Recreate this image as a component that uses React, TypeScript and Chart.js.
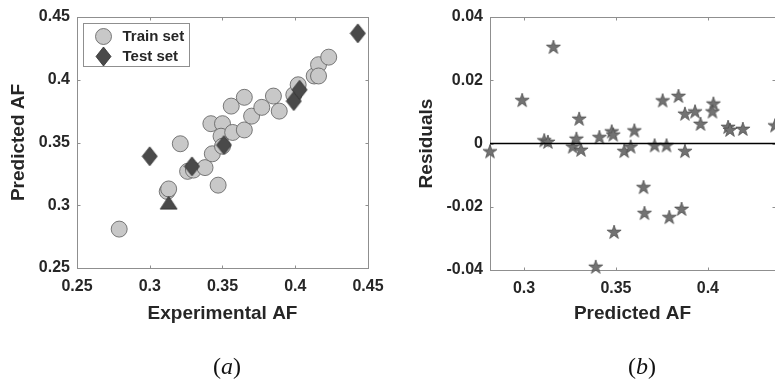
import React, { useEffect, useRef } from "react";
import { Chart, registerables } from "chart.js";
Chart.register(...registerables);

// ---------- data (a): experimental vs predicted ----------
const trainExp = [0.279, 0.312, 0.313, 0.321, 0.326, 0.330, 0.338, 0.343, 0.342, 0.347, 0.350, 0.349, 0.350, 0.357, 0.356, 0.365, 0.365, 0.370, 0.377, 0.385, 0.389, 0.399, 0.402, 0.413, 0.416, 0.416, 0.423];
const trainPred = [0.281, 0.311, 0.313, 0.349, 0.327, 0.328, 0.330, 0.341, 0.365, 0.316, 0.365, 0.355, 0.347, 0.358, 0.379, 0.360, 0.386, 0.371, 0.378, 0.387, 0.375, 0.388, 0.396, 0.403, 0.412, 0.403, 0.418];
const testExp = [0.300, 0.313, 0.329, 0.351, 0.399, 0.403, 0.443];
const testPred = [0.339, 0.302, 0.331, 0.348, 0.383, 0.392, 0.437];

// ---------- data (b): predicted vs residuals ----------
const resPred = [0.2815, 0.299, 0.316, 0.311, 0.313, 0.3265, 0.3285, 0.330, 0.331, 0.341, 0.339, 0.3477, 0.3485, 0.349, 0.3545, 0.358, 0.360, 0.365, 0.3655, 0.371, 0.3754, 0.3775, 0.379, 0.384, 0.3857, 0.3875, 0.3875, 0.393, 0.396, 0.403, 0.4025, 0.411, 0.412, 0.419, 0.4365];
const resVal = [-0.0025, 0.0137, 0.0305, 0.001, 0.0005, -0.001, 0.0015, 0.0078, -0.002, 0.002, -0.039, 0.0038, 0.0028, -0.028, -0.0024, -0.001, 0.0041, -0.0138, -0.022, -0.0006, 0.0136, -0.0006, -0.0233, 0.015, -0.0207, 0.0094, -0.0024, 0.0101, 0.0062, 0.0126, 0.0101, 0.0052, 0.0043, 0.0046, 0.0057];

// ---------- axes ----------
const aTicks = [0.25, 0.3, 0.35, 0.4, 0.45];
const aTickLabels = ["0.25", "0.3", "0.35", "0.4", "0.45"];
const bxTicks = [0.3, 0.35, 0.4];
const bxTickLabels = ["0.3", "0.35", "0.4"];
const byTicks = [-0.04, -0.02, 0, 0.02, 0.04];
const byTickLabels = ["-0.04", "-0.02", "0", "0.02", "0.04"];
const bxRange = [0.2815, 0.4365];
const byRange = [-0.04, 0.04];
const zeroLevel = [0, 0];

const seriesLabels = ["Train set", "Test set"];

const FONT = "'Liberation Sans', Arial, Helvetica, sans-serif";
const TXT = "#262626";

function fmt(vals: number[], labels: string[]) {
  return (v: any) => {
    const i = vals.findIndex((t) => Math.abs(t - Number(v)) < 1e-9);
    return i >= 0 ? labels[i] : "";
  };
}

function makeCanvas(w: number, h: number, draw: (c: CanvasRenderingContext2D) => void) {
  const c = document.createElement("canvas");
  c.width = w;
  c.height = h;
  const ctx = c.getContext("2d")!;
  draw(ctx);
  return c;
}

function diamondImg() {
  return makeCanvas(17, 21, (c) => {
    c.beginPath();
    c.moveTo(8.5, 1);
    c.lineTo(16, 10.5);
    c.lineTo(8.5, 20);
    c.lineTo(1, 10.5);
    c.closePath();
    c.fillStyle = "#4a4a4a";
    c.fill();
    c.strokeStyle = "#2e2e2e";
    c.lineWidth = 0.8;
    c.stroke();
  });
}

function triangleImg() {
  return makeCanvas(19, 15, (c) => {
    c.beginPath();
    c.moveTo(9.5, 1);
    c.lineTo(18, 14);
    c.lineTo(1, 14);
    c.closePath();
    c.fillStyle = "#4a4a4a";
    c.fill();
    c.strokeStyle = "#2e2e2e";
    c.lineWidth = 0.8;
    c.stroke();
  });
}

function starImg() {
  return makeCanvas(18, 18, (c) => {
    const cx = 9, cy = 9.4, R = 7.4, r = R * 0.382;
    c.beginPath();
    for (let i = 0; i < 10; i++) {
      const ang = -Math.PI / 2 + (i * Math.PI) / 5;
      const rr = i % 2 === 0 ? R : r;
      const x = cx + rr * Math.cos(ang);
      const y = cy + rr * Math.sin(ang);
      if (i === 0) c.moveTo(x, y);
      else c.lineTo(x, y);
    }
    c.closePath();
    c.fillStyle = "#727272";
    c.fill();
    c.strokeStyle = "#4f4f4f";
    c.lineWidth = 0.8;
    c.stroke();
  });
}

function boxPlugin(xTicks: number[], yTicks: number[]) {
  return {
    id: "mbox",
    beforeDatasetsDraw(chart: any) {
      const { ctx, chartArea: a, scales } = chart;
      ctx.save();
      ctx.strokeStyle = "#8f8f8f";
      ctx.lineWidth = 1;
      const L = Math.round(a.left) + 0.5, T = Math.round(a.top) + 0.5;
      const Rr = Math.round(a.right) + 0.5, B = Math.round(a.bottom) + 0.5;
      ctx.strokeRect(L, T, Rr - L, B - T);
      ctx.beginPath();
      for (const v of xTicks) {
        const px = Math.round(scales.x.getPixelForValue(v)) + 0.5;
        ctx.moveTo(px, B); ctx.lineTo(px, B - 3);
        ctx.moveTo(px, T); ctx.lineTo(px, T + 3);
      }
      for (const v of yTicks) {
        const py = Math.round(scales.y.getPixelForValue(v)) + 0.5;
        ctx.moveTo(L, py); ctx.lineTo(L + 3, py);
        ctx.moveTo(Rr, py); ctx.lineTo(Rr - 3, py);
      }
      ctx.stroke();
      ctx.restore();
    },
  };
}

function legendPlugin(diamond: HTMLCanvasElement) {
  return {
    id: "mlegend",
    afterDraw(chart: any) {
      const { ctx, chartArea: a } = chart;
      const left = Math.round(a.left) + 6.5, top = Math.round(a.top) + 6.5;
      ctx.save();
      ctx.fillStyle = "#fff";
      ctx.fillRect(left, top, 106, 43);
      ctx.strokeStyle = "#8f8f8f";
      ctx.lineWidth = 1;
      ctx.strokeRect(left, top, 106, 43);
      // circle
      ctx.beginPath();
      ctx.arc(left + 20, top + 13, 8, 0, Math.PI * 2);
      ctx.fillStyle = "#c8c8c8";
      ctx.fill();
      ctx.strokeStyle = "#5c5c5c";
      ctx.lineWidth = 0.8;
      ctx.stroke();
      // diamond
      ctx.drawImage(diamond, left + 20 - diamond.width / 2, top + 33 - diamond.height / 2);
      ctx.fillStyle = TXT;
      ctx.font = `bold 15px ${FONT}`;
      ctx.textBaseline = "middle";
      ctx.textAlign = "left";
      ctx.fillText(chart.data.datasets[0].label, left + 39, top + 13);
      ctx.fillText(chart.data.datasets[1].label, left + 39, top + 33);
      ctx.restore();
    },
  };
}

function scaleCommon(
  vals: number[], labels: string[], min: number, max: number,
  title: string, size: number, isX: boolean, titlePad: number
) {
  return {
    type: "linear",
    min, max,
    grid: { display: false, drawTicks: false },
    border: { display: false },
    afterBuildTicks: (axis: any) => { axis.ticks = vals.map((v) => ({ value: v })); },
    afterFit: (axis: any) => {
      if (isX) axis.height = size; else axis.width = size;
      axis.paddingLeft = 0;
      axis.paddingRight = 0;
      axis.paddingTop = 0;
      axis.paddingBottom = 0;
    },
    ticks: {
      callback: fmt(vals, labels),
      color: TXT,
      font: { family: FONT, size: 16, weight: "bold" },
      padding: isX ? 9 : 7,
      maxRotation: 0,
      autoSkip: false,
      includeBounds: false,
    },
    title: {
      display: true,
      text: title,
      color: TXT,
      font: { family: FONT, size: 19, weight: "bold", lineHeight: 1.2 },
      padding: isX ? { top: 0, bottom: titlePad } : { top: titlePad, bottom: 0 },
    },
  };
}

export default function App() {
  const refA = useRef<HTMLCanvasElement>(null);
  const refB = useRef<HTMLCanvasElement>(null);

  useEffect(() => {
    const diamond = diamondImg();
    const triangle = triangleImg();
    const star = starImg();

    const chartA = new Chart(refA.current!, {
      type: "scatter",
      data: {
        datasets: [
          {
            label: seriesLabels[0],
            data: trainExp.map((x, i) => ({ x, y: trainPred[i] })),
            pointStyle: "circle",
            pointRadius: 8,
            backgroundColor: "#c8c8c8",
            borderColor: "#5c5c5c",
            borderWidth: 0.8,
            order: 2,
            clip: false,
          },
          {
            label: seriesLabels[1],
            data: testExp.map((x, i) => ({ x, y: testPred[i] })),
            pointStyle: (c: any) => (c.dataIndex === 1 ? triangle : diamond),
            pointRadius: 9,
            order: 1,
            clip: false,
          },
        ],
      } as any,
      options: {
        animation: false,
        responsive: false,
        events: [],
        layout: { autoPadding: false, padding: { left: 0, right: 22, top: 17, bottom: 0 } },
        plugins: { legend: { display: false }, tooltip: { enabled: false } },
        scales: {
          x: scaleCommon(aTicks, aTickLabels, 0.25, 0.45, "Experimental AF", 114, true, 56.6),
          y: scaleCommon(aTicks, aTickLabels, 0.25, 0.45, "Predicted AF", 77, false, 7.6),
        } as any,
      },
      plugins: [boxPlugin(aTicks, aTicks), legendPlugin(diamond)],
    });

    const chartB = new Chart(refB.current!, {
      type: "scatter",
      data: {
        datasets: [
          {
            type: "line",
            label: "zero",
            data: [
              { x: bxRange[0], y: zeroLevel[0] },
              { x: bxRange[1], y: zeroLevel[1] },
            ],
            borderColor: "#000",
            borderWidth: 1.5,
            pointRadius: 0,
            showLine: true,
            order: 0,
          },
          {
            label: "Residuals",
            data: resPred.map((x, i) => ({ x, y: resVal[i] })),
            pointStyle: star,
            pointRadius: 8,
            order: 1,
            clip: false,
          },
        ],
      } as any,
      options: {
        animation: false,
        responsive: false,
        events: [],
        layout: { autoPadding: false, padding: { left: 0, right: 0, top: 17, bottom: 0 } },
        plugins: { legend: { display: false }, tooltip: { enabled: false } },
        scales: {
          x: scaleCommon(bxTicks, bxTickLabels, bxRange[0], bxRange[1], "Predicted AF", 112, true, 56.6),
          y: scaleCommon(byTicks, byTickLabels, byRange[0], byRange[1], "Residuals", 100, false, 25.6),
        } as any,
      },
      plugins: [boxPlugin(bxTicks, byTicks)],
    });

    return () => {
      chartA.destroy();
      chartB.destroy();
    };
  }, []);

  const capStyle: React.CSSProperties = {
    position: "absolute",
    top: 366,
    transform: "translate(-50%, -50%)",
    fontFamily: "'Liberation Serif', 'DejaVu Serif', serif",
    fontSize: 24,
    lineHeight: 1,
    color: "#111",
    whiteSpace: "nowrap",
  };

  return (
    <div style={{ position: "fixed", left: 0, top: 0, width: 775, height: 382, overflow: "hidden", background: "#fff" }}>
      <canvas ref={refA} width={390} height={382} style={{ position: "absolute", left: 0, top: 0 }} />
      <canvas ref={refB} width={385} height={382} style={{ position: "absolute", left: 390, top: 0 }} />
      <div style={{ ...capStyle, left: 227 }}>(<i>a</i>)</div>
      <div style={{ ...capStyle, left: 642 }}>(<i>b</i>)</div>
    </div>
  );
}
